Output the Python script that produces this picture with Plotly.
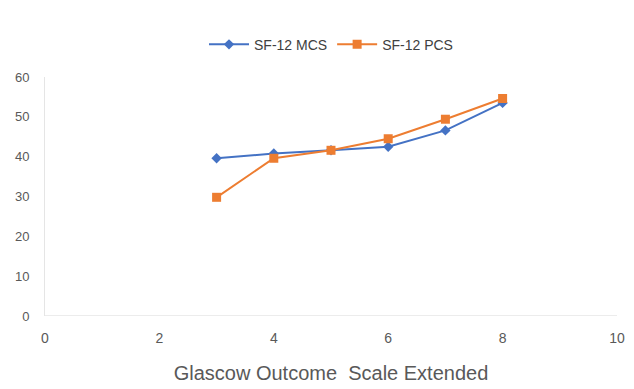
import plotly.graph_objects as go

# GOSE levels and mean SF-12 component scores
gose = [3, 4, 5, 6, 7, 8]
mcs = [39.6, 40.8, 41.6, 42.5, 46.6, 53.5]
pcs = [29.8, 39.6, 41.6, 44.5, 49.4, 54.6]

x_ticks = [0, 2, 4, 6, 8, 10]
y_ticks = [0, 10, 20, 30, 40, 50, 60]

fig = go.Figure()
fig.add_trace(go.Scatter(
    x=gose, y=mcs, name="SF-12 MCS", mode="lines+markers",
    line=dict(color="#4472C4", width=2),
    marker=dict(symbol="diamond", size=8, color="#4472C4"),
))
fig.add_trace(go.Scatter(
    x=gose, y=pcs, name="SF-12 PCS", mode="lines+markers",
    line=dict(color="#ED7D31", width=2),
    marker=dict(symbol="square", size=9, color="#ED7D31"),
))

fig.update_layout(
    width=634, height=389,
    margin=dict(l=45, r=9, t=77, b=72),
    paper_bgcolor="white", plot_bgcolor="white",
    font=dict(family="Arial, Liberation Sans, sans-serif", color="#595959"),
    legend=dict(orientation="h", x=0.5, xanchor="center", y=1.135, yanchor="middle",
                font=dict(size=14, color="#404040"), itemwidth=40),
    xaxis=dict(range=[0, 10], tickvals=x_ticks, showgrid=False, zeroline=False,
               showline=False, ticks="", ticklabelstandoff=12,
               tickfont=dict(size=14, color="#595959"),
               title=dict(text="Glascow Outcome  Scale Extended",
                          font=dict(size=20, color="#595959"), standoff=20)),
    yaxis=dict(range=[0, 60], tickvals=y_ticks, showgrid=False, zeroline=False,
               showline=True, linecolor="#E5E5E5", linewidth=1, ticks="",
               ticklabelstandoff=12,
               tickfont=dict(size=13, color="#595959")),
)
fig.add_shape(type="line", xref="paper", yref="y", x0=0, x1=1, y0=0, y1=0,
              line=dict(color="#D9D9D9", width=1))

fig.write_html("out.html")
